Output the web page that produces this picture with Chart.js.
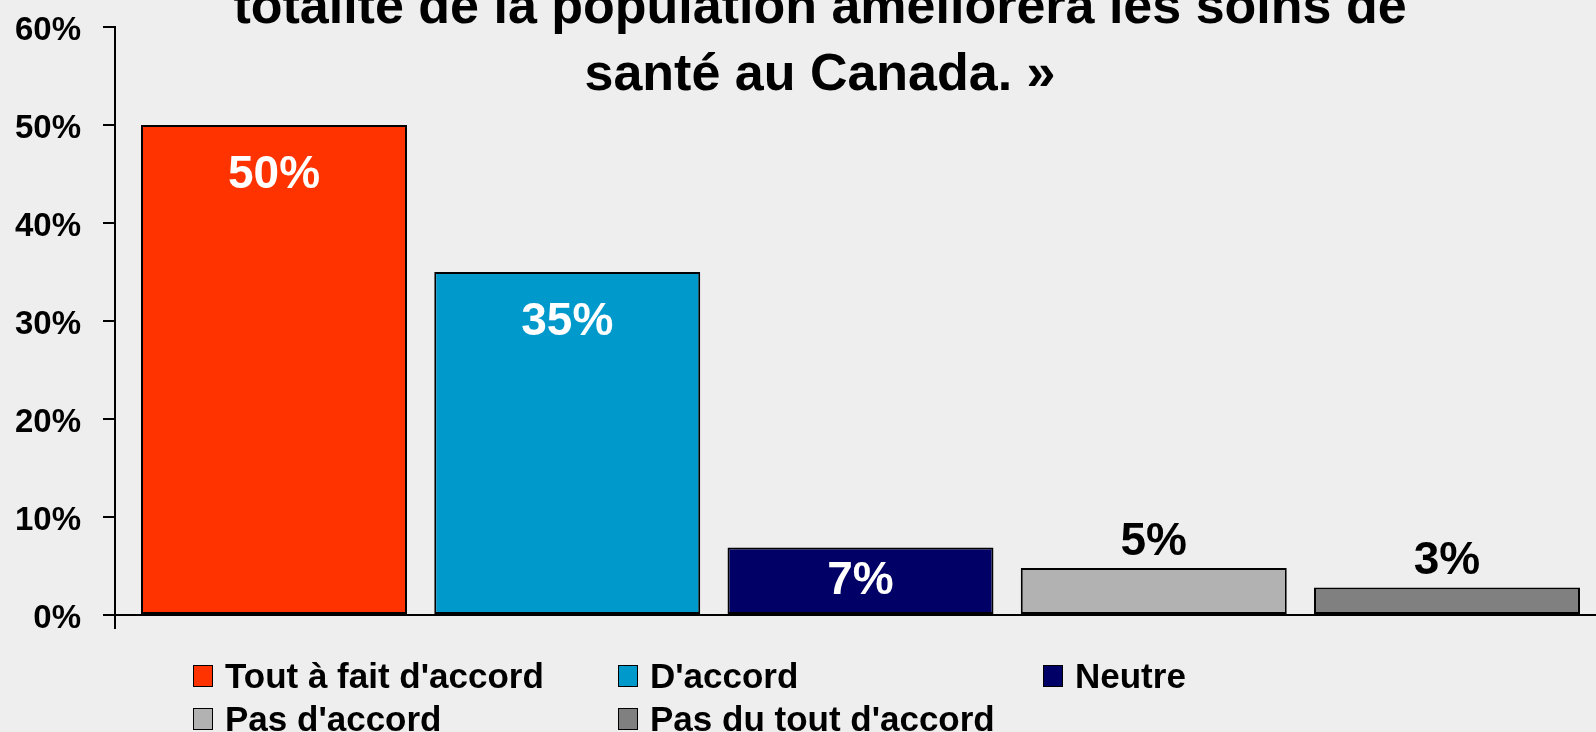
<!DOCTYPE html>
<html>
<head>
<meta charset="utf-8">
<title>Soins de santé au Canada</title>
<script src="https://cdn.jsdelivr.net/npm/chart.js@4.4.0/dist/chart.umd.min.js"></script>
<style>
    html, body { margin: 0; padding: 0; background: #eeeeee; overflow: hidden; }
    #wrap { position: relative; width: 1606px; height: 732px; }
    #legend {
        position: absolute; left: 193px; top: 654px;
        display: grid; grid-template-columns: 425px 425px 425px;
    }
    .item {
        display: flex; align-items: center; height: 43px;
        font: bold 35px "Liberation Sans", Arial, sans-serif; color: #000;
        white-space: nowrap;
    }
    .box { width: 18px; height: 20px; border: 1.5px solid #000; margin-right: 12px; }
</style>
</head>
<body>
<div id="wrap">
    <canvas id="chart" width="1606" height="732"></canvas>
    <div id="legend"></div>
</div>
<script>
// Chart data
const titleLines = ['totalité de la population améliorera les soins de', 'santé au Canada. »'];
const categories = ["Tout à fait d'accord", "D'accord", 'Neutre', "Pas d'accord", "Pas du tout d'accord"];
const values = [50, 35, 6.9, 4.8, 2.8];
const colors = ['#ff3300', '#0099cc', '#000066', '#b2b2b2', '#808080'];

const FONT = '"Liberation Sans", Arial, sans-serif';

// title drawn over the plot (it overlaps the chart area in the original)
const titlePlugin = {
    id: 'overlayTitle',
    afterDraw(chart) {
        const ctx = chart.ctx;
        ctx.save();
        ctx.font = 'bold 52px ' + FONT;
        ctx.fillStyle = '#000';
        ctx.textAlign = 'center';
        ctx.textBaseline = 'alphabetic';
        titleLines.forEach((line, i) => ctx.fillText(line, 820, 23 + i * 67));
        ctx.restore();
    }
};

// value labels: white inside the tall bars, black above the short ones
const valueLabels = {
    id: 'valueLabels',
    afterDatasetsDraw(chart) {
        const ctx = chart.ctx;
        ctx.save();
        ctx.font = 'bold 46px ' + FONT;
        ctx.textAlign = 'center';
        ctx.textBaseline = 'middle';
        chart.data.datasets.forEach((ds, i) => {
            const bar = chart.getDatasetMeta(i).data[0];
            const v = ds.data[0];
            const text = Math.round(v) + '%';
            if (v >= 6) {
                ctx.fillStyle = '#fff';
                ctx.fillText(text, bar.x, Math.min(bar.y + 50, (bar.y + bar.base) / 2 + 1));
            } else {
                ctx.fillStyle = '#000';
                ctx.fillText(text, bar.x, bar.y - 26);
            }
        });
        ctx.restore();
    }
};

const ctx = document.getElementById('chart').getContext('2d');
const chart = new Chart(ctx, {
    type: 'bar',
    data: {
        labels: [''],
        datasets: categories.map((c, i) => ({
            label: c,
            data: [values[i]],
            backgroundColor: colors[i],
            borderColor: '#000',
            borderWidth: 2,
            borderSkipped: false,
            categoryPercentage: 0.9834,
            barPercentage: 0.907,
        })),
    },
    options: {
        responsive: false,
        animation: false,
        layout: { padding: { top: 27, left: 0, right: 0, bottom: 103 } },
        plugins: {
            legend: { display: false },
            title: { display: false },
            tooltip: { enabled: false },
        },
        scales: {
            x: {
                ticks: { display: false },
                grid: {
                    display: true,
                    drawOnChartArea: false,
                    drawTicks: true,
                    tickLength: 14,
                    lineWidth: 2,
                    color: (c) => (c.index === 0 ? '#000' : 'rgba(0,0,0,0)'),
                },
                border: { display: true, color: '#000', width: 2 },
            },
            y: {
                min: 0,
                max: 60,
                afterFit: (s) => {
                    s.width = 115;
                    s.paddingTop = 0;
                    s.paddingBottom = 0;
                },
                ticks: {
                    stepSize: 10,
                    padding: 22,
                    labelOffset: 4,
                    color: '#000',
                    font: { family: FONT, size: 33, weight: 'bold' },
                    callback: (v) => v + '%',
                },
                grid: {
                    drawOnChartArea: false,
                    drawTicks: true,
                    tickLength: 12,
                    lineWidth: 2,
                    color: '#000',
                },
                border: { display: true, color: '#000', width: 2 },
            },
        },
    },
    plugins: [valueLabels, titlePlugin],
});

// html legend in a 3-column grid, built from the datasets
const legendEl = document.getElementById('legend');
chart.data.datasets.forEach((ds) => {
    const item = document.createElement('div');
    item.className = 'item';
    const box = document.createElement('span');
    box.className = 'box';
    box.style.background = ds.backgroundColor;
    const label = document.createElement('span');
    label.textContent = ds.label;
    item.appendChild(box);
    item.appendChild(label);
    legendEl.appendChild(item);
});
</script>
</body>
</html>
